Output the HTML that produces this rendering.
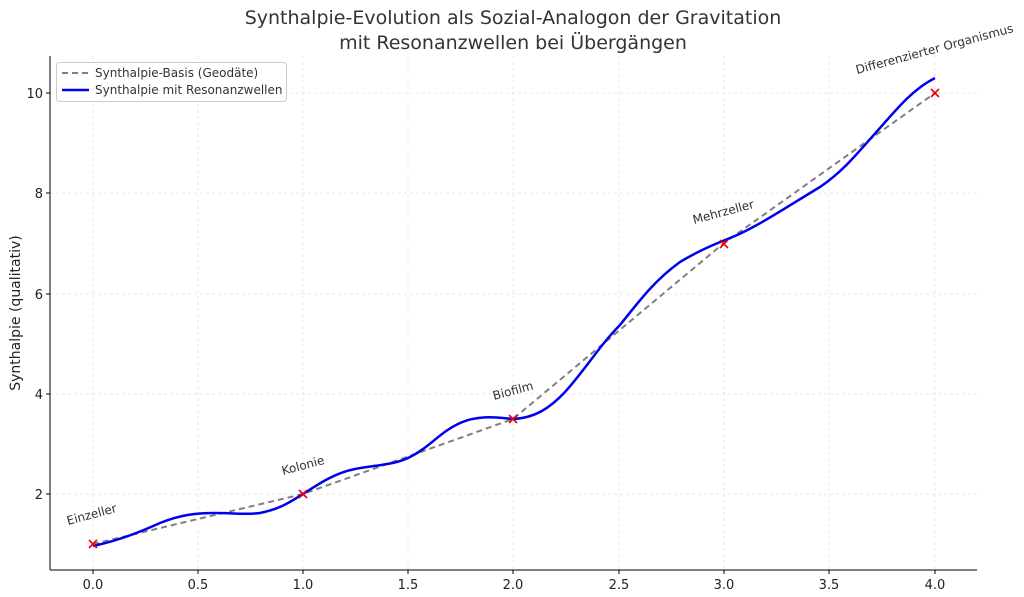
<!DOCTYPE html>
<html><head><meta charset="utf-8"><style>
html,body{margin:0;padding:0;background:#fff;}
svg{display:block;font-family:"DejaVu Sans","Liberation Sans",sans-serif;}
</style></head><body>
<svg width="1024" height="597" viewBox="0 0 1024 597" xmlns="http://www.w3.org/2000/svg">
<rect width="1024" height="597" fill="#fff"/>
<text x="513" y="24" font-size="19" text-anchor="middle" fill="#333">Synthalpie-Evolution als Sozial-Analogon der Gravitation</text>
<text x="513" y="49" font-size="19" text-anchor="middle" fill="#333">mit Resonanzwellen bei Übergängen</text>
<g stroke="#e4e4e4" stroke-width="0.8" stroke-dasharray="3,3">
<line x1="93" y1="56" x2="93" y2="570"/><line x1="198" y1="56" x2="198" y2="570"/><line x1="303" y1="56" x2="303" y2="570"/><line x1="408" y1="56" x2="408" y2="570"/><line x1="513" y1="56" x2="513" y2="570"/><line x1="619" y1="56" x2="619" y2="570"/><line x1="724" y1="56" x2="724" y2="570"/><line x1="829" y1="56" x2="829" y2="570"/><line x1="935" y1="56" x2="935" y2="570"/>
<line x1="50" y1="494" x2="977" y2="494"/><line x1="50" y1="394" x2="977" y2="394"/><line x1="50" y1="294" x2="977" y2="294"/><line x1="50" y1="193" x2="977" y2="193"/><line x1="50" y1="93" x2="977" y2="93"/>
</g>
<line x1="50" y1="56" x2="50" y2="570" stroke="#000" stroke-width="1"/>
<line x1="50" y1="570" x2="977" y2="570" stroke="#000" stroke-width="1"/>
<g stroke="#000" stroke-width="1">
<line x1="93" y1="570" x2="93" y2="574"/><line x1="198" y1="570" x2="198" y2="574"/><line x1="303" y1="570" x2="303" y2="574"/><line x1="408" y1="570" x2="408" y2="574"/><line x1="513" y1="570" x2="513" y2="574"/><line x1="619" y1="570" x2="619" y2="574"/><line x1="724" y1="570" x2="724" y2="574"/><line x1="829" y1="570" x2="829" y2="574"/><line x1="935" y1="570" x2="935" y2="574"/>
<line x1="46" y1="494" x2="50" y2="494"/><line x1="46" y1="394" x2="50" y2="394"/><line x1="46" y1="294" x2="50" y2="294"/><line x1="46" y1="193" x2="50" y2="193"/><line x1="46" y1="93" x2="50" y2="93"/>
</g>
<g font-size="13" fill="#222" text-anchor="middle">
<text x="93" y="589">0.0</text><text x="198" y="589">0.5</text><text x="303" y="589">1.0</text><text x="408" y="589">1.5</text><text x="513" y="589">2.0</text><text x="619" y="589">2.5</text><text x="724" y="589">3.0</text><text x="829" y="589">3.5</text><text x="935" y="589">4.0</text>
</g>
<g font-size="13" fill="#222" text-anchor="end">
<text x="43" y="499">2</text><text x="43" y="399">4</text><text x="43" y="299">6</text><text x="43" y="198">8</text><text x="43" y="98">10</text>
</g>
<text transform="translate(20,313) rotate(-90)" font-size="14" fill="#222" text-anchor="middle">Synthalpie (qualitativ)</text>
<polyline points="93,544 303,494 513,419 724,243 935,93" fill="none" stroke="#808080" stroke-width="2" stroke-dasharray="6,4"/>
<path d="M93,546 C120,540 140,532 160,523 C180,515 195,513 215,513 C235,513 245,515 260,513 C280,509 290,502 303,494 C320,483 335,473 355,469 C375,465 395,465 410,457 C430,447 440,432 460,423 C480,414 500,418 513,419 C535,418 550,408 565,392 C585,370 600,345 620,325 C640,300 655,280 680,262 C700,250 715,244 735,236 C760,225 790,205 820,187 C845,170 860,150 880,128 C900,105 915,88 935,78" fill="none" stroke="#0000ee" stroke-width="2.5"/>
<g stroke="#e00" stroke-width="1.6">
<path d="M89,540 l8,8 M97,540 l-8,8"/><path d="M299,490 l8,8 M307,490 l-8,8"/><path d="M509,415 l8,8 M517,415 l-8,8"/><path d="M720,240 l8,8 M728,240 l-8,8"/><path d="M931,89 l8,8 M939,89 l-8,8"/>
</g>
<g font-size="12" fill="#333">
<text transform="translate(68,525) rotate(-15)">Einzeller</text>
<text transform="translate(283,475) rotate(-15)">Kolonie</text>
<text transform="translate(494,400) rotate(-15)">Biofilm</text>
<text transform="translate(694,224) rotate(-15)">Mehrzeller</text>
<text transform="translate(857,74) rotate(-15)">Differenzierter Organismus</text>
</g>
<rect x="56.5" y="62.5" width="230" height="39" rx="3" fill="#fff" stroke="#ccc"/>
<line x1="62" y1="73" x2="89" y2="73" stroke="#808080" stroke-width="2" stroke-dasharray="6,4"/>
<line x1="62" y1="90" x2="89" y2="90" stroke="#0000ee" stroke-width="2.5"/>
<text x="95" y="77" font-size="12" fill="#333">Synthalpie-Basis (Geodäte)</text>
<text x="95" y="94" font-size="12" fill="#333">Synthalpie mit Resonanzwellen</text>
</svg>
</body></html>
